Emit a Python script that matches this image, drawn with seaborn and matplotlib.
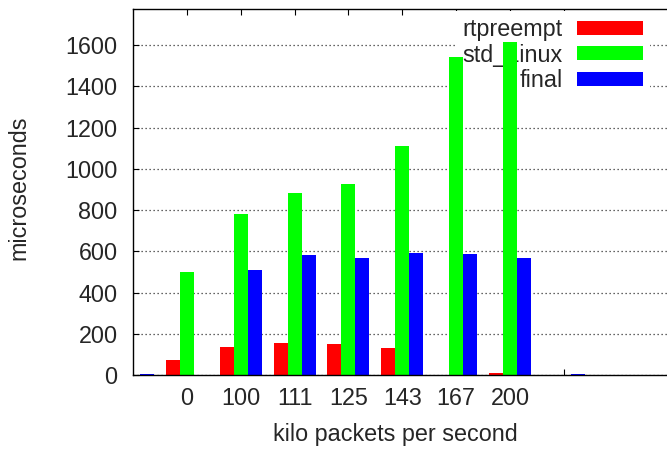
import numpy as np
import pandas as pd
import matplotlib
matplotlib.use("Agg")
import matplotlib.pyplot as plt
import seaborn as sns

# Packet-rate slots along the x axis; the outer two slots carry no label
slot_labels = ["", "0", "100", "111", "125", "143", "167", "200", ""]
series_names = ["rtpreempt", "std_Linux", "final"]
rtpreempt = [np.nan, 73, 136, 155, 150, 132, np.nan, 8, np.nan]
std_linux = [np.nan, 498, 781, 882, 924, 1110, 1542, 1614, np.nan]
final = [4, np.nan, 510, 582, 569, 591, 587, 567, 4]
series_colors = ["#ff0000", "#00ff00", "#0000ff"]
y_ticks = [0, 200, 400, 600, 800, 1000, 1200, 1400, 1600]

rows = []
for name, vals in zip(series_names, [rtpreempt, std_linux, final]):
    for slot, v in enumerate(vals):
        if not np.isnan(v):
            rows.append({"slot": slot, "series": name, "latency": v})
df = pd.DataFrame(rows)

sns.set_theme(style="white")
plt.rcParams["font.family"] = ["Liberation Sans", "DejaVu Sans"]
FS = 16.8

fig = plt.figure(figsize=(6.67, 4.5), dpi=100)
ax = fig.add_axes([0.1994, 0.1667, 0.8237, 0.8133])

sns.barplot(data=df, x="slot", y="latency", hue="series",
            order=list(range(len(slot_labels))), hue_order=series_names,
            palette=series_colors, saturation=1, width=0.78,
            errorbar=None, linewidth=0, ax=ax, zorder=2)

ax.set_xlim(0, 10.2)
ax.set_ylim(0, 1775)
ax.set_xticks(range(1, len(slot_labels)))
ax.set_xticklabels(slot_labels[1:], fontsize=FS)
ax.set_yticks(y_ticks)
ax.set_yticklabels([str(t) for t in y_ticks], fontsize=FS)
ax.tick_params(axis="both", direction="in", length=4.3, width=0.8,
               color="black", top=True, bottom=True, left=True, right=True)
ax.tick_params(axis="x", pad=8.4)
ax.tick_params(axis="y", pad=11.0)

ax.set_axisbelow(True)
ax.yaxis.grid(True, linestyle=(0, (1, 2.2)), color="#333333", linewidth=0.9)
ax.xaxis.grid(False)
for sp in ax.spines.values():
    sp.set_color("black")
    sp.set_linewidth(1.0)

ax.set_xlabel("kilo packets per second", fontsize=FS)
ax.set_ylabel("microseconds", fontsize=FS)
ax.xaxis.set_label_coords(0.477, -0.131)
ax.yaxis.set_label_coords(-0.187, 0.512)

sns.move_legend(ax, "upper right", bbox_to_anchor=(0.9405, 0.994),
                title=None, markerfirst=False, frameon=True, fontsize=FS,
                handlelength=2.8, handleheight=0.56, handletextpad=0.64,
                labelspacing=0.1, borderpad=0.3, borderaxespad=0.0,
                fancybox=False, framealpha=1.0)
leg = ax.get_legend()
leg.get_frame().set_edgecolor("none")
leg.get_frame().set_facecolor("white")
leg.set_zorder(1.5)

fig.savefig("out.png", dpi=100)
